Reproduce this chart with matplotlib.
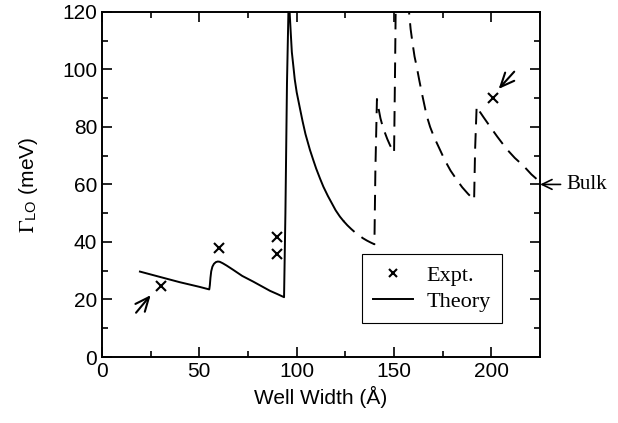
import matplotlib
matplotlib.use("Agg")
import matplotlib.pyplot as plt
from matplotlib.ticker import MultipleLocator

plt.rcParams['font.family'] = 'Liberation Sans'
plt.rcParams['mathtext.fontset'] = 'stix'

# theory curve, solid part (well width in A, Gamma_LO in meV)
theory_x = [19.5, 30, 40, 50, 55.1, 55.4, 55.7, 56.1, 56.7, 57.5, 58.5,
            59.5, 60.5, 62.0, 64.0, 67.4, 72.0, 77.7, 82.0, 86.3, 90.0,
            93.5, 94.2, 95.0, 95.8, 96.2, 96.6, 97.0, 97.5, 98.3, 99.0,
            100.0, 101.7, 103.0, 104.5, 106.8, 108.5, 110.0, 112.0, 113.7,
            116.0, 118.0, 120.0, 122.2, 124.0]
theory_y = [29.7, 27.8, 26.0, 24.4, 23.5, 25.0, 27.5, 29.8, 31.4, 32.4, 33.0,
            33.2, 33.1, 32.6, 31.8, 30.3, 28.2, 26.2, 24.6, 23.0, 21.9,
            20.8, 50.0, 95.0, 122.0, 122.0, 117.0, 112.0, 106.0, 101.0, 96.5,
            92.0, 86.3, 82.0, 77.5, 72.0, 68.5, 65.5, 62.0, 59.2,
            56.0, 53.5, 51.0, 48.8, 47.3]

# theory curve, dashed part
dashed_x = [124.0, 126.0, 128.0, 130.0, 132.0, 134.0, 136.0, 138.0, 139.9,
            140.4, 141.2, 142.0, 143.0, 144.0, 145.0, 146.5, 148.0, 150.0,
            150.5, 150.9, 157.2, 157.7, 158.5, 159.5, 160.5, 161.6, 163.0,
            164.5, 166.7, 168.5, 170.5, 173.6, 176.0, 179.0, 182.2, 185.0,
            188.0, 191.1, 191.6, 192.4, 194.0, 196.0, 199.3, 203.0, 207.8,
            212.0, 216.4, 220.5, 225.0]
dashed_y = [47.3, 45.8, 44.5, 43.3, 42.3, 41.3, 40.5, 39.8, 39.2,
            65.0, 89.7, 86.5, 83.0, 80.5, 78.5, 75.8, 73.5, 71.0,
            100.0, 126.0, 126.0, 119.8, 114.0, 109.0, 104.5, 101.0, 96.0,
            91.0, 84.0, 80.0, 76.5, 72.0, 68.5, 64.8, 61.6, 59.0,
            56.7, 54.6, 72.0, 87.2, 85.3, 83.3, 80.1, 76.6, 72.3,
            69.2, 66.5, 63.5, 60.8]

# experimental points
expt_x = [30.1, 60.3, 90.0, 90.0, 200.6]
expt_y = [24.7, 37.8, 41.8, 35.7, 90.0]

# arrows pointing at two of the points: (tail, head)
arrow_tails = [(17.5, 15.4), (211.7, 99.2)]
arrow_heads = [(25.0, 21.5), (203.7, 93.2)]
bulk_value = 60.0

fig = plt.figure(figsize=(6.18, 4.23), dpi=100)
ax = fig.add_axes([0.165, 0.156, 0.709, 0.816])

ax.plot(theory_x, theory_y, color='black', lw=1.4, label='Theory')
ax.plot(dashed_x, dashed_y, color='black', lw=1.4, dashes=(8, 4.5))
ax.plot(expt_x, expt_y, ls='none', marker='x', ms=7, mew=1.5,
        color='black', label='Expt.')

for tail, head in zip(arrow_tails, arrow_heads):
    ax.annotate('', xy=head, xytext=tail,
                arrowprops=dict(arrowstyle='->,head_length=0.5,head_width=0.22',
                                lw=1.5, color='black', mutation_scale=20,
                                shrinkA=0, shrinkB=0))

ax.annotate('', xy=(225, bulk_value), xytext=(235.5, bulk_value),
            arrowprops=dict(arrowstyle='->,head_length=0.45,head_width=0.22',
                            lw=1.2, color='black', mutation_scale=16,
                            shrinkA=0, shrinkB=0),
            annotation_clip=False)
ax.text(238.5, bulk_value, 'Bulk', va='center', ha='left', fontsize=15,
        family='Liberation Serif', clip_on=False)

ax.set_xlim(0, 225)
ax.set_ylim(0, 120)
ax.xaxis.set_major_locator(MultipleLocator(50))
ax.xaxis.set_minor_locator(MultipleLocator(25))
ax.yaxis.set_major_locator(MultipleLocator(20))
ax.yaxis.set_minor_locator(MultipleLocator(10))
ax.tick_params(which='both', direction='in', top=True, right=True,
               labelsize=15, width=1.2)
ax.tick_params(which='major', length=7)
ax.tick_params(which='minor', length=4)
for s in ax.spines.values():
    s.set_linewidth(1.4)

ax.set_xlabel('Well Width (Å)', fontsize=15, labelpad=4)
ax.set_ylabel(r'$\Gamma_{\mathregular{LO}}$ (meV)', fontsize=15, labelpad=16)

h, l = ax.get_legend_handles_labels()
leg = ax.legend([h[1], h[0]], [l[1], l[0]], loc='lower left',
                bbox_to_anchor=(0.593, 0.098),
                frameon=True, fancybox=False, framealpha=1, edgecolor='black',
                prop={'family': 'Liberation Serif', 'size': 16},
                handlelength=1.8, borderpad=0.5, labelspacing=0.25,
                handletextpad=0.6, borderaxespad=0, markerscale=0.8)
leg.get_frame().set_linewidth(0.8)

fig.savefig('out.png', dpi=100)
